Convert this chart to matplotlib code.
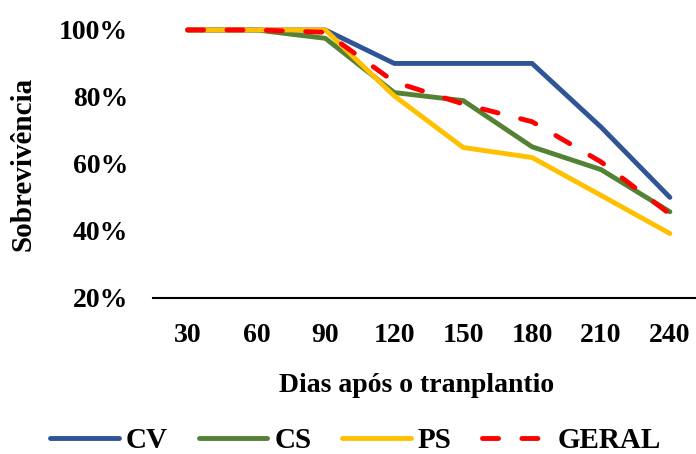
import matplotlib
matplotlib.use("Agg")
import matplotlib.pyplot as plt
from matplotlib.ticker import FuncFormatter

plt.rcParams['font.family'] = ['Liberation Serif', 'DejaVu Serif']
plt.rcParams['font.weight'] = 'bold'

dias = ['30', '60', '90', '120', '150', '180', '210', '240']
cv = [1.00, 1.00, 1.00, 0.90, 0.90, 0.90, 0.71, 0.50]
cs = [1.00, 1.00, 0.975, 0.813, 0.789, 0.651, 0.583, 0.457]
ps = [1.00, 1.00, 1.00, 0.803, 0.649, 0.619, 0.506, 0.392]
geral = [1.00, 1.00, 0.993, 0.845, 0.779, 0.726, 0.606, 0.45]

fig = plt.figure(figsize=(6.96, 4.54), dpi=100)
ax = fig.add_axes([0.22, 0.344, 0.792, 0.590])

x = list(range(len(dias)))
lw = 3.5
ax.plot(x, cv, color='#2F5597', lw=lw, label='CV', clip_on=False, solid_capstyle='round')
ax.plot(x, cs, color='#548235', lw=lw, label='CS', clip_on=False, solid_capstyle='round')
ax.plot(x, ps, color='#FFC000', lw=lw, label='PS', clip_on=False, solid_capstyle='round')
ax.plot(x, geral, color='#FF0000', lw=lw, label='GERAL', clip_on=False,
        dashes=(3.3, 4.8), dash_capstyle='round')

ax.set_xlim(-0.5, len(dias) - 0.5)
ax.set_ylim(0.2, 1.0)
ax.set_yticks([0.2, 0.4, 0.6, 0.8, 1.0])
ax.yaxis.set_major_formatter(FuncFormatter(lambda v, p: f"{v*100:.0f}%"))
ax.set_xticks(x)
ax.set_xticklabels(dias)

for s in ['top', 'right', 'left']:
    ax.spines[s].set_visible(False)
ax.spines['bottom'].set_linewidth(1.5)
ax.spines['bottom'].set_color('#000000')
ax.tick_params(axis='both', length=0, labelsize=20)
ax.tick_params(axis='y', pad=18)
ax.tick_params(axis='x', pad=18)

ax.set_xlabel('Dias após o tranplantio', fontsize=20, fontweight='bold', labelpad=18)
ax.xaxis.label.set_x(0.478)
ax.set_ylabel('Sobrevivência', fontsize=21, fontweight='bold', labelpad=16)

leg = fig.legend(loc='center', bbox_to_anchor=(0.511, 0.03), ncol=4, frameon=False,
                 fontsize=21, handlelength=2.35, handletextpad=0.24, columnspacing=1.05,
                 borderpad=0.2)

fig.savefig('out.png', dpi=100)
